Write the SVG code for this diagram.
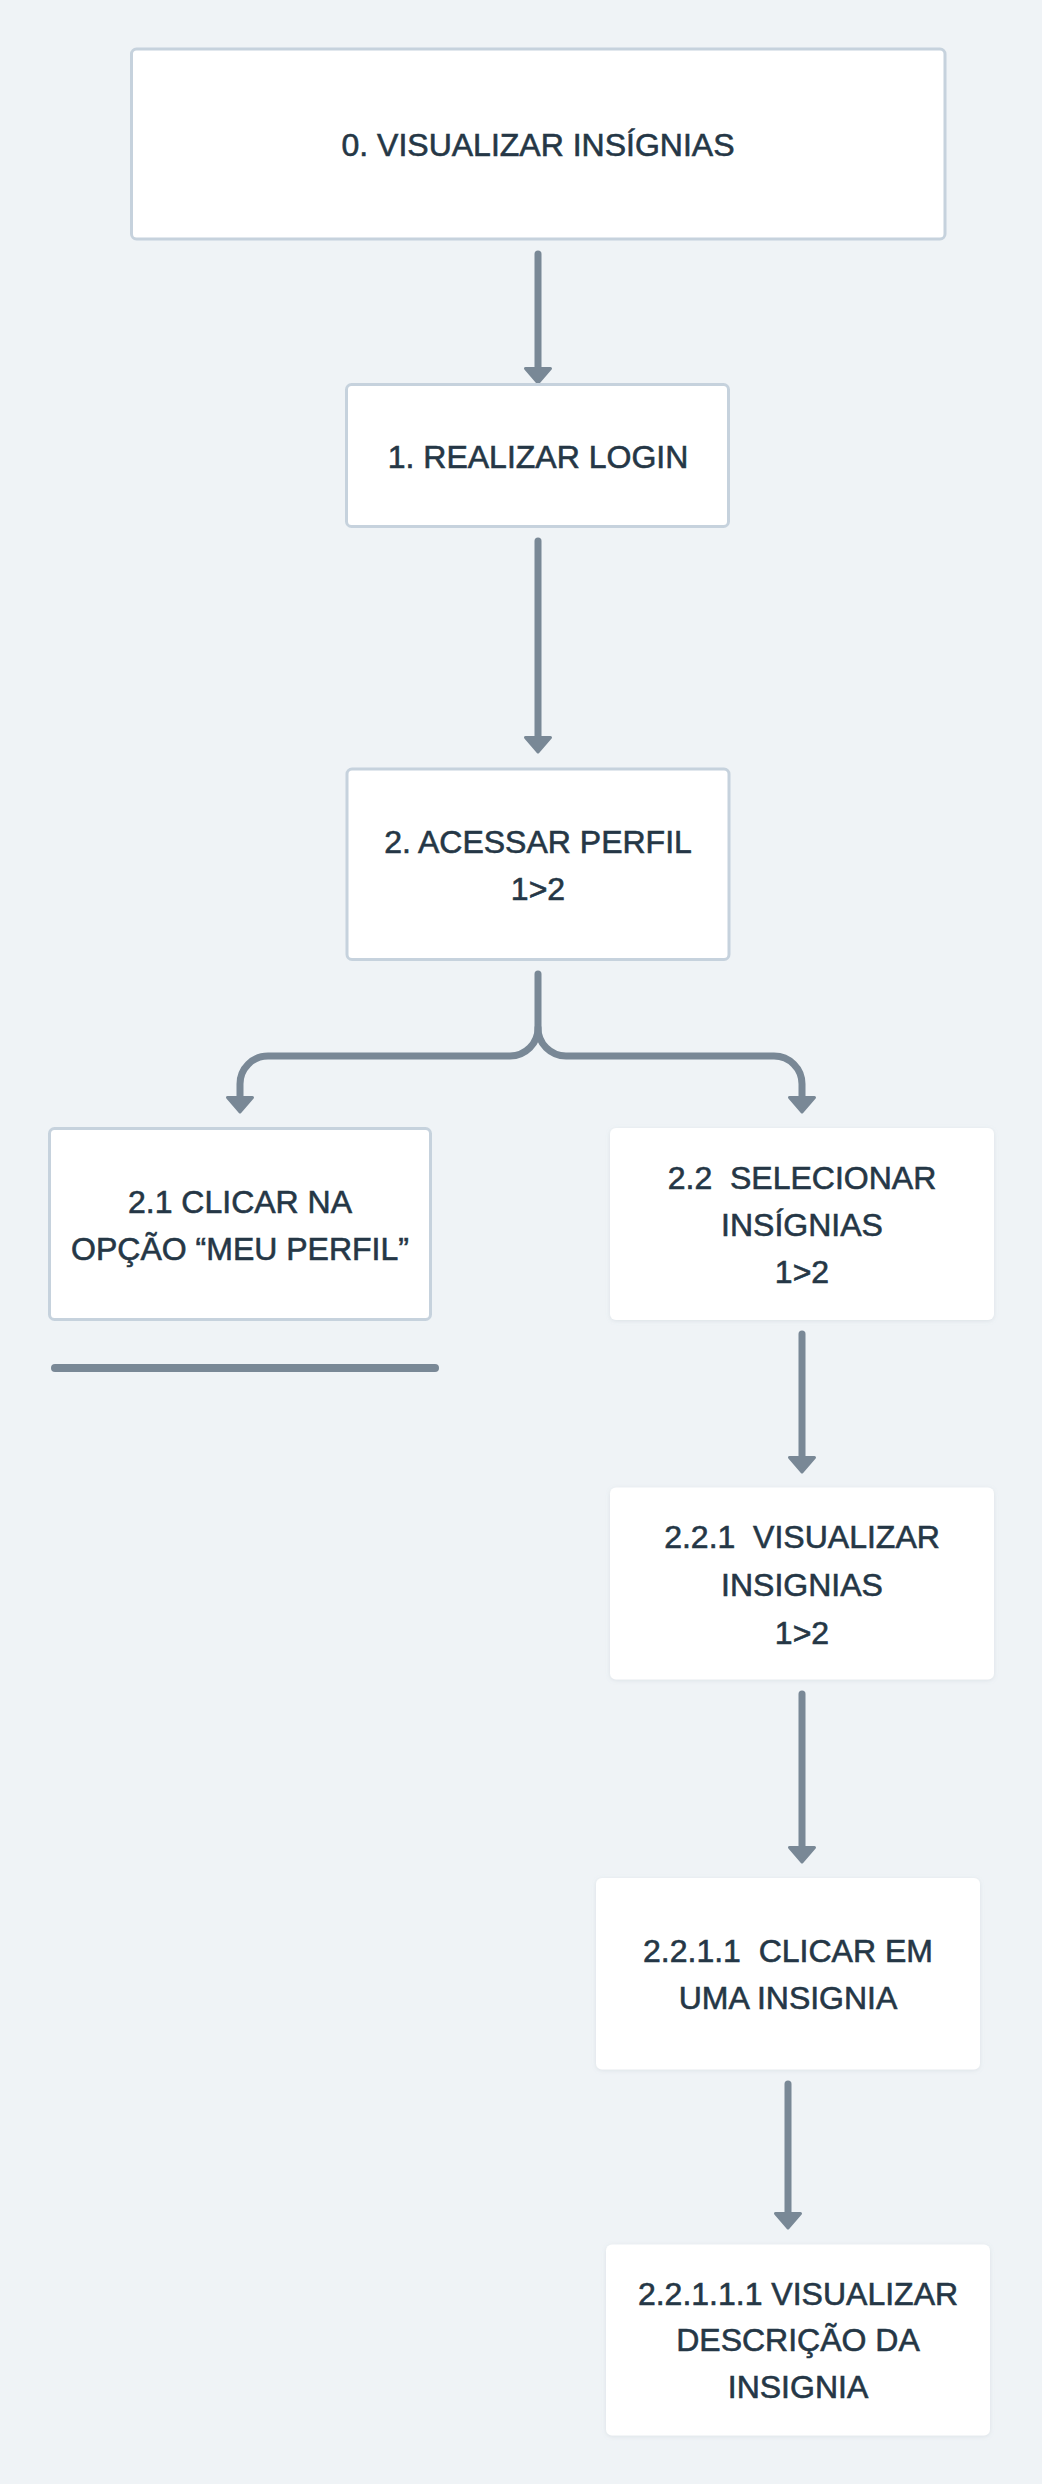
<svg xmlns="http://www.w3.org/2000/svg" width="1042" height="2484" viewBox="0 0 1042 2484">
  <defs>
    <style>
      .bg { fill: #eff3f6; }
      .box { fill: #ffffff; stroke: #c6d2dd; stroke-width: 3; }
      .card { fill: #ffffff; filter: url(#shadow); }
      .lbl { font-family: "Liberation Sans", Arial, sans-serif; font-size: 32px; fill: #253746; stroke: #253746; stroke-width: 0.6; text-anchor: middle; white-space: pre; }
      .line { fill: none; stroke: #798896; stroke-width: 7; stroke-linecap: round; stroke-linejoin: round; }
      .head { fill: #798896; stroke: #798896; stroke-width: 3; stroke-linejoin: round; }
      .bar { fill: none; stroke: #798896; stroke-width: 8; stroke-linecap: round; }
    </style>
    <filter id="shadow" x="-10%" y="-10%" width="120%" height="120%">
      <feDropShadow dx="0" dy="1" stdDeviation="2" flood-color="#8090a0" flood-opacity="0.18"/>
    </filter>
  </defs>

  <rect class="bg" x="0" y="0" width="1042" height="2484"/>

  <g id="connectors">
    <path class="line" d="M538 254 V368"/>
    <path class="head" d="M525.5 368.5 H550.5 L538 383 Z"/>

    <path class="line" d="M538 541 V737"/>
    <path class="head" d="M525.5 737.5 H550.5 L538 752 Z"/>

    <path class="line" d="M538 974 V1028 A28 28 0 0 1 510 1056 H268 A28 28 0 0 0 240 1084 V1097"/>
    <path class="head" d="M227.5 1097.5 H252.5 L240 1112 Z"/>
    <path class="line" d="M538 1028 A28 28 0 0 0 566 1056 H774 A28 28 0 0 1 802 1084 V1097"/>
    <path class="head" d="M789.5 1097.5 H814.5 L802 1112 Z"/>

    <path class="bar" d="M55 1368 H435"/>

    <path class="line" d="M802 1334 V1457"/>
    <path class="head" d="M789.5 1457.5 H814.5 L802 1472 Z"/>

    <path class="line" d="M802 1694 V1847"/>
    <path class="head" d="M789.5 1847.5 H814.5 L802 1862 Z"/>

    <path class="line" d="M788 2084 V2213"/>
    <path class="head" d="M775.5 2213.5 H800.5 L788 2228 Z"/>
  </g>

  <g id="n0">
    <rect class="box" x="131.5" y="49" width="813.5" height="190" rx="5"/>
    <text class="lbl" x="538" y="156">0. VISUALIZAR INSÍGNIAS</text>
  </g>

  <g id="n1">
    <rect class="box" x="346.5" y="384.5" width="382" height="142" rx="5"/>
    <text class="lbl" x="538" y="467.5">1. REALIZAR LOGIN</text>
  </g>

  <g id="n2">
    <rect class="box" x="347" y="769" width="382" height="190.5" rx="5"/>
    <text class="lbl" x="538" y="852.5">2. ACESSAR PERFIL</text>
    <text class="lbl" x="538" y="899.5">1&gt;2</text>
  </g>

  <g id="n2_1">
    <rect class="box" x="49.5" y="1128.5" width="381" height="191" rx="5"/>
    <text class="lbl" x="240" y="1212.5">2.1 CLICAR NA</text>
    <text class="lbl" x="240" y="1259.5">OPÇÃO “MEU PERFIL”</text>
  </g>

  <g id="n2_2">
    <rect class="card" x="610" y="1128" width="384" height="192" rx="6"/>
    <text class="lbl" x="802" y="1188.5">2.2  SELECIONAR</text>
    <text class="lbl" x="802" y="1235.5">INSÍGNIAS</text>
    <text class="lbl" x="802" y="1282.5">1&gt;2</text>
  </g>

  <g id="n2_2_1">
    <rect class="card" x="610" y="1487.5" width="384" height="192" rx="6"/>
    <text class="lbl" x="802" y="1547.5">2.2.1  VISUALIZAR</text>
    <text class="lbl" x="802" y="1595.5">INSIGNIAS</text>
    <text class="lbl" x="802" y="1643.5">1&gt;2</text>
  </g>

  <g id="n2_2_1_1">
    <rect class="card" x="596" y="1878" width="384" height="191.5" rx="6"/>
    <text class="lbl" x="788" y="1961.5">2.2.1.1  CLICAR EM</text>
    <text class="lbl" x="788" y="2009">UMA INSIGNIA</text>
  </g>

  <g id="n2_2_1_1_1">
    <rect class="card" x="606" y="2244.5" width="384" height="191" rx="6"/>
    <text class="lbl" x="798" y="2304.5">2.2.1.1.1 VISUALIZAR</text>
    <text class="lbl" x="798" y="2351">DESCRIÇÃO DA</text>
    <text class="lbl" x="798" y="2397.5">INSIGNIA</text>
  </g>
</svg>
